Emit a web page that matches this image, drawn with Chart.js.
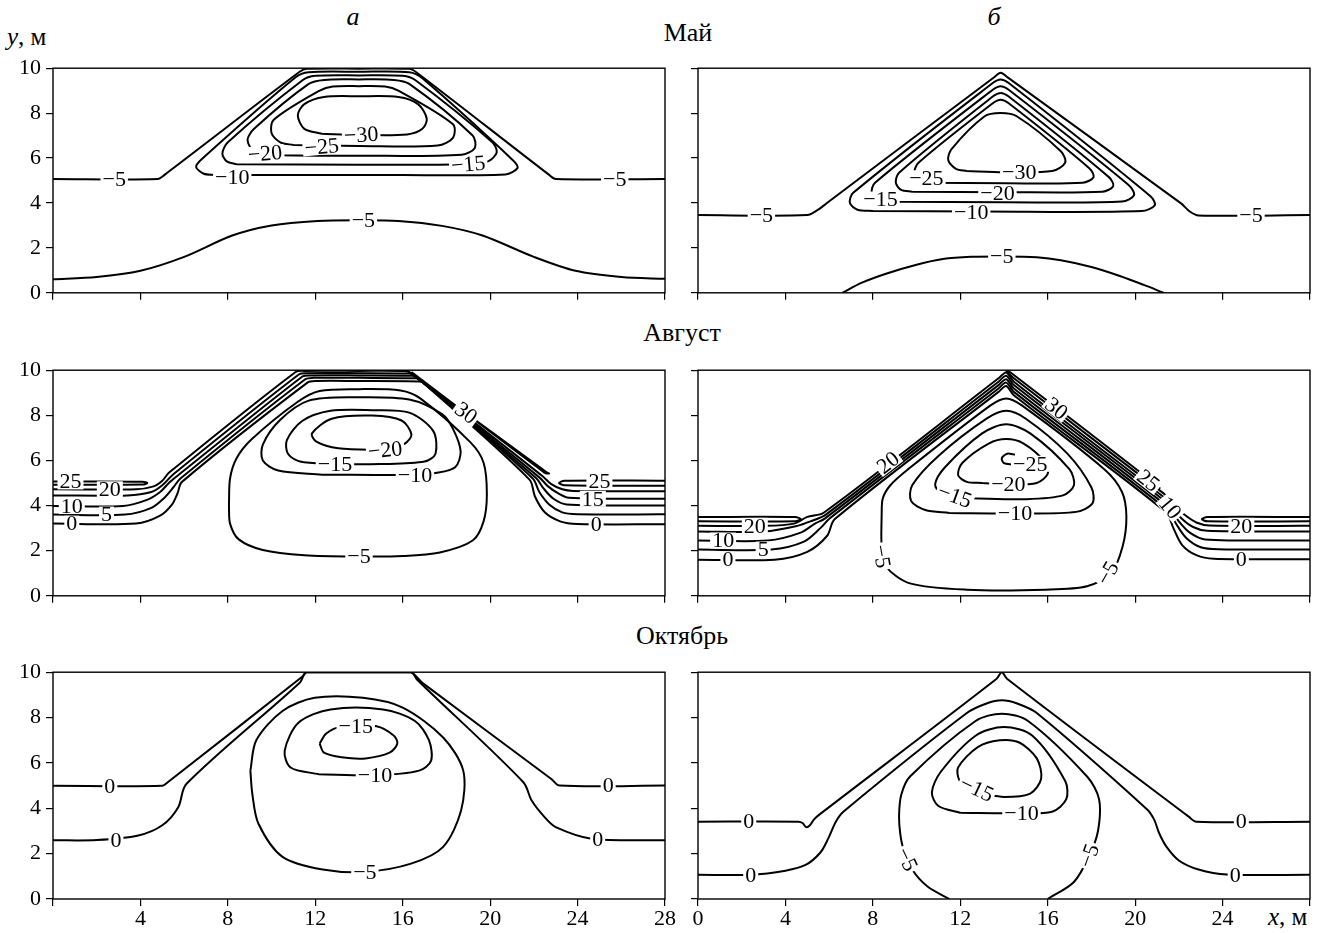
<!DOCTYPE html>
<html><head><meta charset="utf-8">
<script src="https://cdn.jsdelivr.net/npm/chart.js@4.4.1/dist/chart.umd.min.js"></script>
<style>
body{margin:0;background:#fff;width:1329px;height:933px;position:relative;overflow:hidden;font-family:"Liberation Serif","DejaVu Serif",serif;}
.t{position:absolute;transform:translate(-50%,-50%);font-size:26px;color:#000;white-space:nowrap;}
.l{position:absolute;font-size:25px;color:#000;white-space:nowrap;}
canvas{position:absolute;}
</style></head><body>
<div class="t" style="left:353px;top:17px;font-style:italic">а</div>
<div class="t" style="left:994px;top:17px;font-style:italic">б</div>
<div class="t" style="left:688px;top:33px">Май</div>
<div class="t" style="left:682px;top:333px">Август</div>
<div class="t" style="left:682px;top:636px">Октябрь</div>
<div class="l" style="left:7px;top:23px"><i>y</i>, м</div>
<div class="l" style="left:1268px;top:903px"><i>x</i>, м</div>
<canvas id="c0"></canvas><canvas id="c1"></canvas><canvas id="c2"></canvas>
<canvas id="c3"></canvas><canvas id="c4"></canvas><canvas id="c5"></canvas>
<script>
// ---------- axis ticks ----------
const xTicks = [0,4,8,12,16,20,24,28];
const yTicks = [0,2,4,6,8,10];

// ---------- Май, а ----------
const mayA_m5_top = [[0,5.07],[4.8,5.07],[5.1,5.25],[11.3,9.85],[11.6,9.97],[14,9.98],[16.3,9.97],[16.65,9.8],[22.7,5.25],[23.0,5.07],[28,5.07]];
const mayA_m10 = [[7.4,5.25],[14,5.25],[20.7,5.27],[21.25,5.55],[21.1,5.85],[16.9,9.55],[16.3,9.82],[14,9.84],[11.7,9.82],[11.1,9.6],[6.8,5.95],[6.55,5.6],[6.9,5.3],[7.4,5.25]];
const mayA_m15 = [[8.4,5.72],[14,5.7],[18.8,5.72],[19.9,5.85],[20.3,6.25],[20.1,6.7],[16.6,9.45],[16.0,9.66],[14,9.68],[12,9.66],[11.4,9.45],[8.0,6.7],[7.75,6.2],[7.95,5.85],[8.4,5.72]];
const mayA_m20 = [[10.2,6.12],[14,6.1],[18.7,6.15],[19.3,6.45],[19.2,7.0],[16.3,9.3],[15.6,9.48],[14,9.5],[12.4,9.48],[11.7,9.3],[9.2,7.3],[8.9,6.8],[9.2,6.3],[10.2,6.12]];
const mayA_m25 = [[11.0,6.58],[14,6.54],[17.6,6.56],[18.3,6.9],[18.3,7.5],[15.8,9.0],[15.2,9.18],[14,9.2],[12.8,9.18],[12.2,9.0],[10.1,7.7],[10.0,7.1],[10.4,6.7],[11.0,6.58]];
const mayA_m30 = [[12.3,7.08],[14,7.03],[16.2,7.05],[16.9,7.3],[17.1,7.75],[16.7,8.4],[15.8,8.72],[14,8.75],[12.4,8.72],[11.5,8.4],[11.2,7.9],[11.5,7.3],[12.3,7.08]];
const mayA_m5_low = [[0,0.6],[2,0.7],[4,0.98],[6,1.6],[8.2,2.55],[10,3.0],[12.1,3.2],[14,3.23],[15.8,3.2],[17.8,2.98],[19.65,2.55],[22,1.6],[23.9,0.98],[26,0.7],[28,0.62]];
const mayA_labels = [[2.8,5.07,'−5',0],[25.7,5.07,'−5',0],[14.2,3.23,'−5',0],[8.2,5.15,'−10',0],[19.0,5.72,'−15',-5],[9.7,6.2,'−20',-5],[12.3,6.5,'−25',-5],[14.1,7.03,'−30',-3]];

// ---------- Май, б ----------
const mayB_m5_top = [[0,3.46],[5.0,3.46],[5.5,3.7],[5.9,4.0],[13.55,9.6],[13.85,9.8],[14.15,9.6],[22.1,3.98],[22.5,3.62],[22.9,3.44],[28,3.46]];
const mayB_m10 = [[8,3.64],[13,3.62],[20.3,3.64],[20.9,3.9],[20.7,4.3],[14.2,9.35],[13.85,9.5],[13.5,9.35],[7.1,4.45],[6.95,4.0],[7.3,3.7],[8,3.64]];
const mayB_m15 = [[8.9,4.05],[14,4.03],[19.4,4.06],[19.95,4.35],[19.7,4.8],[14.2,9.05],[13.85,9.2],[13.5,9.05],[8.1,4.9],[7.95,4.45],[8.3,4.12],[8.9,4.05]];
const mayB_m20 = [[9.8,4.5],[14,4.48],[18.5,4.5],[19.0,4.75],[18.8,5.15],[14.2,8.75],[13.85,8.9],[13.5,8.75],[9.2,5.35],[9.05,4.9],[9.3,4.58],[9.8,4.5]];
const mayB_m25 = [[10.6,4.9],[14,4.88],[17.6,4.9],[18.1,5.15],[17.9,5.55],[14.2,8.45],[13.85,8.6],[13.5,8.45],[10.1,5.8],[9.9,5.35],[10.2,5.0],[10.6,4.9]];
const mayB_m30 = [[12.3,5.42],[14,5.37],[16.2,5.42],[16.8,5.8],[16.6,6.3],[14.6,7.85],[13.85,8.0],[13.1,7.85],[11.6,6.4],[11.45,5.9],[11.8,5.52],[12.3,5.42]];
const mayB_m5_low = [[6.6,0],[7.5,0.45],[8.6,0.85],[10,1.25],[11.2,1.5],[12.5,1.6],[14,1.62],[15.5,1.58],[16.6,1.45],[18,1.15],[19.3,0.75],[20.4,0.35],[21.3,0]];
const mayB_labels = [[2.9,3.46,'−5',0],[25.3,3.46,'−5',0],[13.9,1.62,'−5',0],[12.5,3.58,'−10',0],[8.35,4.15,'−15',0],[13.7,4.45,'−20',0],[10.45,5.1,'−25',0],[14.7,5.37,'−30',0]];

// ---------- Август, а ----------
const augA_25L = [[0,5.07],[4.1,5.06],[4.32,5.0],[4.1,4.93],[0,4.92]];
const augA_25R = [[28,5.1],[23.4,5.1],[23.15,5.0],[23.4,4.9],[28,4.88]];
const augA_20 = [[0,4.72],[3.8,4.72],[4.6,4.85],[5.0,5.1],[5.3,5.45],[11.1,9.92],[11.5,9.97],[14,9.97],[16.1,9.96],[16.35,9.88],[22.4,5.3],[22.8,4.95],[23.3,4.72],[23.8,4.65],[28,4.63]];
const augA_15 = [[0,4.45],[3.4,4.45],[4.5,4.6],[5.0,4.9],[5.52,5.4],[11.26,9.82],[11.6,9.87],[14,9.87],[16.3,9.85],[16.5,9.78],[22.25,5.25],[22.65,4.85],[23.1,4.55],[23.6,4.35],[28,4.3]];
const augA_10 = [[0,3.98],[3.2,3.98],[4.3,4.25],[4.9,4.6],[5.3,5.0],[5.67,5.3],[11.41,9.72],[11.75,9.77],[14,9.77],[16.45,9.75],[16.65,9.68],[22.1,5.22],[22.45,4.75],[22.9,4.3],[23.5,4.05],[28,4.0]];
const augA_5 = [[0,3.6],[3.3,3.6],[4.5,3.9],[5.1,4.35],[5.5,4.8],[5.83,5.2],[11.54,9.6],[11.9,9.66],[14,9.66],[16.6,9.64],[16.8,9.57],[21.95,5.2],[22.25,4.6],[22.7,4.05],[23.3,3.7],[24,3.62],[28,3.61]];
const augA_0 = [[0,3.2],[3.8,3.2],[4.9,3.55],[5.45,4.05],[5.7,4.55],[5.9,5.05],[11.64,9.45],[12.0,9.52],[14,9.52],[16.75,9.5],[16.95,9.43],[21.8,5.15],[22.05,4.4],[22.5,3.7],[23.2,3.3],[24,3.18],[28,3.17]];
const augA_30 = [[16.0,10],[16.2,9.98],[22.55,5.5],[22.7,5.42],[22.5,5.45],[16.4,9.92]];
const augA_m5 = [[8.05,4.0],[8.1,5.2],[8.4,6.1],[9.1,6.95],[11.2,8.6],[12.2,9.08],[14,9.16],[15.9,9.1],[16.8,8.75],[19.1,6.8],[19.7,5.9],[19.85,4.5],[19.7,3.3],[19.2,2.45],[17.7,1.92],[16,1.76],[14,1.74],[11.5,1.8],[9.6,2.03],[8.5,2.5],[8.1,3.2],[8.05,4.0]];
const augA_m10 = [[12.3,5.37],[16.6,5.36],[17.5,5.44],[18.4,5.7],[18.65,6.4],[18.3,7.4],[17.8,8.05],[16.3,8.7],[13.8,8.8],[11.7,8.65],[10.4,7.8],[9.6,6.7],[9.6,6.0],[10.3,5.55],[12.3,5.37]];
const augA_m15 = [[12.9,5.84],[15,5.84],[17.0,5.95],[17.5,6.3],[17.4,7.3],[16.3,8.12],[14.6,8.23],[12.7,8.2],[11.4,7.75],[10.7,6.9],[10.75,6.3],[11.3,5.95],[12.9,5.84]];
const augA_m20 = [[15.2,6.46],[16.1,6.75],[16.4,7.15],[15.95,7.77],[14.6,7.99],[12.75,7.85],[11.85,7.2],[12.05,6.83],[13.05,6.54],[15.2,6.46]];
const augA_labels = [[0.8,5.07,'25',0],[2.6,4.72,'20',0],[0.86,3.98,'10',0],[2.45,3.6,'5',0],[0.86,3.2,'0',0],[25.0,5.1,'25',0],[24.7,4.3,'15',0],[24.85,3.17,'0',0],[18.9,8.1,'30',36],[15.2,6.46,'−20',-6],[12.9,5.84,'−15',0],[16.56,5.36,'−10',0],[14.0,1.74,'−5',0]];

// ---------- Август, б ----------
const augB_25L = [[0,3.49],[4.45,3.49],[4.7,3.4],[4.45,3.3],[0,3.3]];
const augB_25R = [[28,3.49],[23.3,3.49],[23.05,3.4],[23.3,3.3],[28,3.3]];
const augB_20 = [[0,3.1],[3.0,3.1],[4.4,3.2],[5.0,3.5],[5.75,3.68],[13.75,9.64],[14.1,9.9],[14.45,9.49],[21.68,4.1],[22.25,3.6],[22.8,3.25],[23.4,3.12],[28,3.1]];
const augB_15 = [[0,2.85],[3.06,2.85],[4.55,3.1],[5.15,3.3],[5.85,3.6],[13.75,9.49],[14.1,9.75],[14.45,9.34],[21.62,4.0],[22.1,3.45],[22.65,3.05],[23.3,2.88],[28,2.85]];
const augB_10 = [[0,2.45],[3.2,2.45],[4.7,2.8],[5.35,3.2],[5.8,3.42],[13.75,9.34],[14.1,9.6],[14.45,9.19],[21.55,3.9],[22.0,3.3],[22.5,2.8],[23.2,2.5],[28,2.45]];
const augB_5 = [[0,2.05],[3.36,2.05],[4.85,2.4],[5.6,3.0],[6.02,3.43],[13.75,9.19],[14.1,9.45],[14.45,9.04],[21.48,3.8],[21.9,3.15],[22.35,2.55],[23.0,2.15],[23.8,2.06],[28,2.05]];
const augB_0 = [[0,1.6],[3.5,1.6],[5.0,1.95],[5.9,2.65],[6.26,3.4],[13.75,9.04],[14.1,9.3],[14.45,8.89],[21.4,3.71],[21.75,3.0],[22.15,2.25],[22.8,1.8],[23.6,1.64],[28,1.62]];
const augB_30 = [[14.1,10.0],[14.3,9.9],[21.0,4.9],[21.15,4.75]];
const augB_25S = [[14.1,9.97],[14.45,9.64],[21.3,4.54],[21.5,4.35]];
const augB_m5 = [[8.4,3.5],[8.45,4.3],[8.8,4.9],[9.6,5.6],[13.4,8.45],[14.1,8.75],[14.8,8.45],[18.6,5.6],[19.4,4.6],[19.6,3.5],[19.43,2.2],[18.9,1.0],[17.8,0.42],[15.9,0.27],[12.3,0.27],[9.7,0.55],[8.6,1.3],[8.4,2.3],[8.4,3.5]];
const augB_m10 = [[11.5,3.67],[14.5,3.65],[17.3,3.72],[18.05,4.1],[18.0,4.8],[16.9,6.3],[15.0,7.85],[14.1,8.2],[13.2,7.85],[11.0,6.2],[9.8,4.9],[9.75,4.2],[10.4,3.8],[11.5,3.67]];
const augB_m15 = [[12.5,4.32],[15.0,4.28],[16.7,4.45],[17.2,4.9],[17.0,5.6],[15.2,7.2],[14.1,7.6],[13.0,7.2],[11.3,5.7],[10.85,4.95],[11.1,4.55],[11.75,4.4],[12.5,4.32]];
const augB_m20 = [[13.0,5.0],[14.2,4.93],[15.5,5.0],[16.0,5.4],[15.9,5.9],[14.9,6.75],[14.1,6.95],[13.3,6.75],[12.1,5.9],[11.9,5.35],[12.3,5.05],[13.0,5.0]];
const augB_m25 = [[14.5,6.25],[14.15,6.3],[13.9,6.1],[14.0,5.88],[14.4,5.82]];
const augB_labels = [[2.6,3.1,'20',0],[1.15,2.45,'10',0],[2.98,2.05,'5',0],[1.37,1.6,'0',0],[24.86,3.1,'20',0],[24.86,1.62,'0',0],[8.7,5.9,'20',-38],[16.4,8.3,'30',38],[20.6,5.1,'25',38],[21.6,3.9,'10',50],[15.2,5.85,'−25',0],[14.2,4.93,'−20',0],[11.75,4.42,'−15',20],[14.5,3.65,'−10',0],[8.4,1.75,'−5',80],[18.75,1.0,'−5',-60]];

// ---------- Октябрь, а ----------
const octA_0top = [[0,4.99],[5.0,4.99],[5.25,5.15],[11.4,9.8],[11.6,10],[14,10],[16.35,10],[16.9,9.53],[22.8,5.29],[23.17,5.0],[28,5.0]];
const octA_0low = [[0,2.59],[2.0,2.6],[3.9,2.8],[5.0,3.25],[5.73,4.05],[6.1,5.07],[11.3,9.55],[11.6,10],[14,10],[16.4,10],[16.65,9.68],[21.52,5.15],[21.9,4.34],[22.5,3.6],[23.0,3.17],[24.64,2.66],[28,2.59]];
const octA_m5 = [[9.03,5.66],[9.3,7.0],[10.5,8.29],[11.97,8.87],[14.18,8.87],[16.0,8.44],[17.85,7.12],[18.77,5.66],[18.67,3.9],[17.85,2.3],[16.38,1.56],[14.3,1.2],[12.34,1.3],[10.5,1.86],[9.4,3.32],[9.12,4.63],[9.03,5.66]];
const octA_m10 = [[12.16,5.5],[14.73,5.45],[16.75,5.66],[17.3,6.1],[17.2,7.0],[16.56,7.85],[15.1,8.36],[12.7,8.36],[11.24,7.78],[10.6,6.54],[10.87,5.8],[12.16,5.5]];
const octA_m15 = [[12.2,6.85],[12.5,7.3],[13.2,7.6],[14.8,7.62],[15.6,7.2],[15.75,6.85],[15.4,6.45],[14.3,6.2],[13.2,6.25],[12.4,6.45],[12.2,6.85]];
const octA_labels = [[2.6,4.99,'0',0],[25.4,5.0,'0',0],[2.88,2.6,'0',0],[24.92,2.64,'0',0],[13.85,7.62,'−15',0],[14.73,5.45,'−10',0],[14.27,1.2,'−5',0]];

// ---------- Октябрь, б ----------
const octB_0top = [[0,3.41],[4.6,3.41],[4.78,3.35],[4.95,3.17],[5.12,3.25],[5.3,3.5],[5.55,3.72],[13.65,9.7],[13.9,10],[14.15,9.7],[22.45,3.63],[22.8,3.41],[28,3.41]];
const octB_0low = [[0,1.07],[2.4,1.07],[4.0,1.25],[4.92,1.5],[5.6,2.05],[5.95,2.65],[6.3,3.4],[6.65,3.85],[12.3,8.2],[13.2,8.62],[13.9,8.76],[14.6,8.62],[15.5,8.2],[20.55,3.95],[20.87,3.5],[21.1,2.9],[21.43,2.31],[22.0,1.7],[22.9,1.3],[24.2,1.08],[28,1.07]];
const octB_m5 = [[11.5,0],[10.5,0.55],[9.8,1.3],[9.4,2.2],[9.25,2.9],[9.2,3.7],[9.3,4.6],[9.7,5.4],[12.7,7.85],[13.9,8.17],[15.1,7.85],[17.8,5.4],[18.35,4.4],[18.3,3.0],[17.9,1.9],[17.2,0.75],[16.0,0]];
const octB_m10 = [[12.0,3.8],[14.5,3.78],[16.2,3.85],[16.85,4.4],[16.8,5.2],[15.3,7.2],[14.0,7.58],[12.7,7.2],[11.1,5.6],[10.7,4.7],[11.0,4.1],[12.0,3.8]];
const octB_m15 = [[13.0,4.65],[14.0,4.5],[15.2,4.65],[15.7,5.3],[15.5,6.2],[14.7,6.9],[13.8,7.0],[12.8,6.7],[11.9,5.8],[11.95,5.25],[12.3,4.95],[13.0,4.65]];
const octB_labels = [[2.32,3.41,'0',0],[24.86,3.41,'0',0],[2.41,1.07,'0',0],[24.58,1.07,'0',0],[12.75,4.85,'−15',25],[14.8,3.78,'−10',0],[9.55,1.75,'−5',65],[17.9,1.9,'−5',-70]];

// ---------- layout ----------
const rowTop = [66, 368, 670];
const rowBottom = [293, 596, 899];
const colLeft = [53, 698];
const colRight = [665, 1310];

const panels = [
  {lines:[mayA_m5_top,mayA_m10,mayA_m15,mayA_m20,mayA_m25,mayA_m30,mayA_m5_low], labels:mayA_labels, row:0, col:0},
  {lines:[mayB_m5_top,mayB_m10,mayB_m15,mayB_m20,mayB_m25,mayB_m30,mayB_m5_low], labels:mayB_labels, row:0, col:1},
  {lines:[augA_25L,augA_25R,augA_20,augA_15,augA_10,augA_5,augA_0,augA_30,augA_m5,augA_m10,augA_m15,augA_m20], labels:augA_labels, row:1, col:0},
  {lines:[augB_25L,augB_25R,augB_20,augB_15,augB_10,augB_5,augB_0,augB_30,augB_25S,augB_m5,augB_m10,augB_m15,augB_m20,augB_m25], labels:augB_labels, row:1, col:1},
  {lines:[octA_0top,octA_0low,octA_m5,octA_m10,octA_m15], labels:octA_labels, row:2, col:0},
  {lines:[octB_0top,octB_0low,octB_m5,octB_m10,octB_m15], labels:octB_labels, row:2, col:1}
];

const FONT = '"Liberation Serif", "DejaVu Serif", serif';

const contourLabels = {
  id:'contourLabels',
  afterDatasetsDraw(chart){
    const items = chart.options.plugins.contourLabels.items;
    const {ctx, scales:{x, y}} = chart;
    ctx.save();
    ctx.font = '22px ' + FONT;
    ctx.textAlign = 'center';
    ctx.textBaseline = 'middle';
    for (const [vx, vy, txt, rot] of items){
      const px = x.getPixelForValue(vx), py = y.getPixelForValue(vy);
      ctx.save();
      ctx.translate(px, py);
      ctx.rotate(rot*Math.PI/180);
      const w = ctx.measureText(txt).width;
      ctx.fillStyle = '#fff';
      ctx.fillRect(-w/2-2, -8, w+4, 16);
      ctx.fillStyle = '#000';
      ctx.fillText(txt, 0, 1);
      ctx.restore();
    }
    ctx.restore();
  },
  afterDraw(chart){
    const {ctx, chartArea:a} = chart;
    ctx.save();
    ctx.strokeStyle = '#000';
    ctx.lineWidth = 1.4;
    ctx.strokeRect(a.left, a.top, a.right-a.left, a.bottom-a.top);
    ctx.restore();
  }
};

function build(){
panels.forEach((p, i) => {
  const padTop = 16;
  const yW = p.col === 0 ? 53 : 20;
  const xH = p.row === 2 ? 34 : 18;
  const cLeft = colLeft[p.col] - yW;
  const cW = p.col === 0 ? colRight[0] + 15 : 1329 - cLeft;
  const padRight = cW - yW - (colRight[p.col] - colLeft[p.col]);
  const cTop = rowTop[p.row] - padTop;
  const cH = (rowBottom[p.row] - rowTop[p.row]) + padTop + xH;
  const cv = document.getElementById('c' + i);
  cv.width = cW; cv.height = cH;
  cv.style.left = cLeft + 'px'; cv.style.top = cTop + 'px';
  cv.style.width = cW + 'px'; cv.style.height = cH + 'px';

  const showX = p.row === 2;
  const showY = p.col === 0;
  new Chart(cv, {
    type:'scatter',
    data:{datasets: p.lines.map(arr => ({
      data: arr.map(q => ({x:q[0], y:q[1]})),
      showLine:true, borderColor:'#000', borderWidth:2,
      pointRadius:0, pointHoverRadius:0, tension:0.3, fill:false
    }))},
    options:{
      responsive:false, animation:false, devicePixelRatio:1,
      layout:{padding:{top:padTop, right:padRight, left:0, bottom:0}},
      plugins:{legend:{display:false}, tooltip:{enabled:false}, contourLabels:{items:p.labels}},
      scales:{
        x:{type:'linear', min:0, max:28,
          afterBuildTicks(s){ s.ticks = xTicks.map(v => ({value:v})); },
          afterFit(s){ s.height = xH; },
          grid:{display:true, drawOnChartArea:false, drawTicks:true, tickLength:7, color:'#000', lineWidth:1.2},
          border:{display:false},
          ticks:{autoSkip:false, maxRotation:0, padding:0, color:'#000', font:{family:FONT, size:22},
            callback:(v) => {
              if (!showX) return '';
              if (p.col === 0 && v === 0) return '';
              if (p.col === 1 && v === 28) return '';
              return String(v);
            }}
        },
        y:{type:'linear', min:0, max:10,
          afterBuildTicks(s){ s.ticks = yTicks.map(v => ({value:v})); },
          afterFit(s){ s.width = yW; },
          grid:{display:true, drawOnChartArea:false, drawTicks:true, tickLength:7, color:'#000', lineWidth:1.2},
          border:{display:false},
          ticks:{autoSkip:false, padding:5, color:'#000', font:{family:FONT, size:22},
            callback:(v) => showY ? String(v) : ''}
        }
      }
    },
    plugins:[contourLabels]
  });
});
}
if (document.fonts && document.fonts.load) {
  Promise.all([document.fonts.load('22px "Liberation Serif"'), document.fonts.load('italic 22px "Liberation Serif"')]).then(build, build);
} else { build(); }
</script>
</body></html>
